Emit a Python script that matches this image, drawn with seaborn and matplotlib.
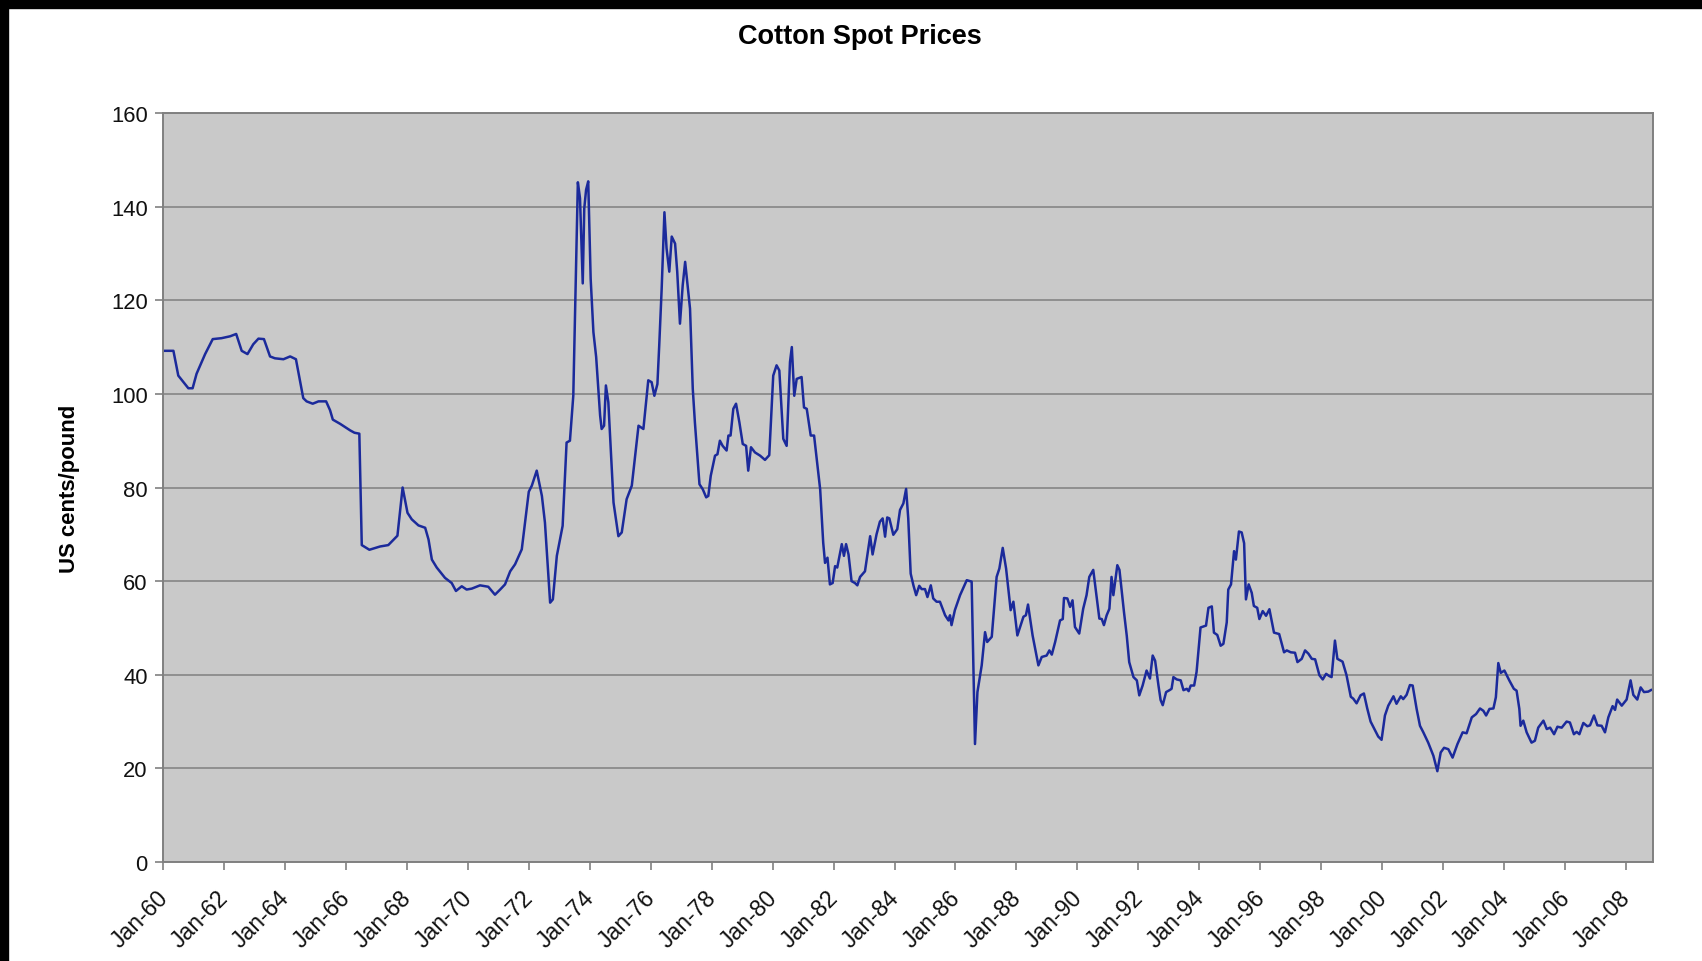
# Cotton spot prices, monthly line chart (Excel style)
import pandas as pd
import seaborn as sns
import matplotlib.pyplot as plt
from matplotlib.patches import Rectangle
from matplotlib.transforms import ScaledTranslation

# data (decimal year, US cents/pound)
years = [
    1960.00, 1960.34, 1960.50, 1960.83, 1960.97, 1961.10, 1961.38, 1961.63, 1961.92, 1962.20,
    1962.40, 1962.58, 1962.77, 1962.96, 1963.13, 1963.31, 1963.51, 1963.67, 1963.95, 1964.17,
    1964.36, 1964.50, 1964.60, 1964.71, 1964.91, 1965.10, 1965.35, 1965.48, 1965.57, 1965.81,
    1966.14, 1966.28, 1966.44, 1966.52, 1966.77, 1967.12, 1967.39, 1967.69, 1967.86, 1968.02,
    1968.16, 1968.38, 1968.60, 1968.71, 1968.82, 1968.98, 1969.25, 1969.47, 1969.61, 1969.80,
    1969.96, 1970.13, 1970.40, 1970.67, 1970.89, 1971.06, 1971.22, 1971.39, 1971.55, 1971.77,
    1972.00, 1972.10, 1972.26, 1972.43, 1972.53, 1972.70, 1972.79, 1972.92, 1973.11, 1973.24,
    1973.35, 1973.46, 1973.61, 1973.68, 1973.77, 1973.82, 1973.88, 1973.95, 1974.03, 1974.12,
    1974.21, 1974.34, 1974.39, 1974.47, 1974.53, 1974.61, 1974.78, 1974.94, 1975.05, 1975.21,
    1975.38, 1975.60, 1975.76, 1975.92, 1976.03, 1976.12, 1976.22, 1976.28, 1976.36, 1976.45,
    1976.52, 1976.61, 1976.69, 1976.80, 1976.87, 1976.96, 1977.05, 1977.13, 1977.20, 1977.29,
    1977.38, 1977.45, 1977.60, 1977.71, 1977.82, 1977.89, 1977.97, 1978.11, 1978.19, 1978.27,
    1978.36, 1978.49, 1978.55, 1978.62, 1978.71, 1978.80, 1978.91, 1979.02, 1979.13, 1979.20,
    1979.29, 1979.42, 1979.59, 1979.75, 1979.89, 1980.02, 1980.13, 1980.22, 1980.35, 1980.46,
    1980.57, 1980.63, 1980.71, 1980.79, 1980.95, 1981.03, 1981.12, 1981.25, 1981.36, 1981.56,
    1981.66, 1981.72, 1981.80, 1981.88, 1981.97, 1982.05, 1982.12, 1982.27, 1982.34, 1982.41,
    1982.49, 1982.59, 1982.70, 1982.78, 1982.87, 1983.03, 1983.20, 1983.28, 1983.41, 1983.52,
    1983.61, 1983.69, 1983.76, 1983.83, 1983.96, 1984.09, 1984.18, 1984.29, 1984.38, 1984.45,
    1984.53, 1984.62, 1984.71, 1984.81, 1984.89, 1985.00, 1985.08, 1985.19, 1985.27, 1985.38,
    1985.49, 1985.66, 1985.77, 1985.82, 1985.87, 1985.98, 1986.15, 1986.37, 1986.53, 1986.64,
    1986.72, 1986.86, 1986.97, 1987.04, 1987.19, 1987.35, 1987.44, 1987.55, 1987.66, 1987.81,
    1987.90, 1988.03, 1988.23, 1988.31, 1988.38, 1988.53, 1988.72, 1988.83, 1988.99, 1989.08,
    1989.16, 1989.27, 1989.43, 1989.52, 1989.56, 1989.67, 1989.76, 1989.84, 1989.92, 1990.06,
    1990.19, 1990.30, 1990.39, 1990.52, 1990.61, 1990.72, 1990.80, 1990.87, 1990.96, 1991.05,
    1991.12, 1991.18, 1991.31, 1991.38, 1991.53, 1991.62, 1991.70, 1991.84, 1991.95, 1992.03,
    1992.14, 1992.27, 1992.38, 1992.47, 1992.55, 1992.66, 1992.73, 1992.80, 1992.91, 1993.02,
    1993.09, 1993.15, 1993.26, 1993.39, 1993.48, 1993.59, 1993.65, 1993.72, 1993.83, 1993.91,
    1994.04, 1994.22, 1994.30, 1994.41, 1994.48, 1994.59, 1994.70, 1994.79, 1994.90, 1994.95,
    1995.04, 1995.14, 1995.20, 1995.30, 1995.39, 1995.47, 1995.53, 1995.62, 1995.72, 1995.79,
    1995.90, 1995.97, 1996.08, 1996.19, 1996.30, 1996.45, 1996.62, 1996.78, 1996.87, 1997.00,
    1997.14, 1997.22, 1997.36, 1997.47, 1997.58, 1997.69, 1997.80, 1997.94, 1998.05, 1998.16,
    1998.27, 1998.34, 1998.45, 1998.53, 1998.70, 1998.83, 1998.97, 1999.05, 1999.16, 1999.29,
    1999.40, 1999.51, 1999.62, 1999.73, 1999.87, 1999.98, 2000.09, 2000.20, 2000.37, 2000.47,
    2000.61, 2000.69, 2000.80, 2000.91, 2001.00, 2001.13, 2001.24, 2001.35, 2001.51, 2001.68,
    2001.81, 2001.92, 2002.03, 2002.17, 2002.31, 2002.47, 2002.64, 2002.77, 2002.94, 2003.08,
    2003.21, 2003.32, 2003.41, 2003.52, 2003.65, 2003.73, 2003.81, 2003.89, 2004.01, 2004.17,
    2004.32, 2004.41, 2004.50, 2004.54, 2004.63, 2004.74, 2004.90, 2005.01, 2005.12, 2005.29,
    2005.40, 2005.51, 2005.64, 2005.75, 2005.89, 2006.05, 2006.16, 2006.29, 2006.38, 2006.47,
    2006.60, 2006.73, 2006.82, 2006.95, 2007.06, 2007.20, 2007.31, 2007.42, 2007.56, 2007.64,
    2007.71, 2007.86, 2008.02, 2008.15, 2008.24, 2008.37, 2008.48, 2008.59, 2008.73, 2008.84,
]
prices = [
    109.2, 109.2, 103.9, 101.2, 101.2, 104.3, 108.5, 111.7, 111.9, 112.3,
    112.8, 109.2, 108.5, 110.6, 111.8, 111.7, 108.0, 107.6, 107.4, 108.0,
    107.4, 102.5, 99.1, 98.4, 97.9, 98.4, 98.4, 96.5, 94.5, 93.6,
    92.2, 91.7, 91.5, 67.7, 66.7, 67.4, 67.7, 69.7, 80.0, 74.6,
    73.2, 71.9, 71.4, 68.9, 64.6, 62.9, 60.7, 59.6, 57.9, 58.9,
    58.2, 58.4, 59.1, 58.8, 57.1, 58.2, 59.3, 62.1, 63.6, 66.8,
    79.1, 80.4, 83.6, 78.2, 72.5, 55.4, 56.1, 65.4, 71.8, 89.6,
    90.0, 99.6, 145.2, 141.8, 123.6, 139.6, 143.6, 145.4, 124.6, 113.2,
    107.9, 95.4, 92.5, 93.2, 101.8, 98.2, 76.8, 69.6, 70.4, 77.5,
    80.4, 93.2, 92.5, 102.9, 102.5, 99.6, 102.1, 110.4, 122.5, 138.8,
    131.1, 126.1, 133.6, 132.1, 126.1, 115.0, 123.2, 128.2, 123.9, 118.2,
    101.1, 93.9, 80.7, 79.6, 77.9, 78.2, 82.5, 86.8, 87.1, 90.0,
    88.9, 87.9, 91.1, 91.1, 96.8, 97.9, 93.9, 89.3, 88.9, 83.6,
    88.6, 87.5, 86.8, 85.9, 86.9, 103.9, 106.1, 105.0, 90.4, 88.9,
    106.8, 110.0, 99.6, 103.2, 103.6, 97.1, 96.8, 91.1, 91.1, 79.6,
    68.2, 63.9, 65.0, 59.3, 59.6, 63.2, 62.9, 67.9, 65.4, 67.9,
    65.7, 60.0, 59.6, 59.1, 60.9, 62.1, 69.6, 65.7, 70.0, 72.7,
    73.4, 69.5, 73.6, 73.4, 69.9, 71.1, 75.2, 76.6, 79.7, 73.4,
    61.6, 59.1, 57.0, 59.0, 58.3, 58.3, 56.6, 59.1, 56.3, 55.6,
    55.6, 52.7, 51.6, 52.7, 50.6, 53.8, 57.0, 60.2, 59.9, 25.2,
    36.3, 42.0, 49.1, 47.0, 48.1, 60.9, 62.7, 67.1, 62.7, 53.8,
    55.6, 48.4, 52.4, 52.7, 55.0, 48.4, 42.0, 43.8, 44.1, 45.2,
    44.3, 47.0, 51.6, 51.9, 56.4, 56.3, 54.5, 55.9, 50.2, 48.8,
    54.1, 57.0, 60.9, 62.4, 57.7, 52.0, 51.9, 50.6, 52.7, 54.1,
    60.9, 57.0, 63.4, 62.4, 53.3, 48.3, 42.7, 39.5, 38.8, 35.6,
    37.7, 40.9, 39.2, 44.1, 43.0, 37.7, 34.6, 33.5, 36.3, 36.7,
    37.0, 39.5, 39.0, 38.8, 36.7, 37.0, 36.5, 37.7, 37.7, 40.6,
    50.1, 50.5, 54.3, 54.6, 49.0, 48.5, 46.2, 46.6, 51.2, 58.2,
    59.3, 66.4, 64.6, 70.6, 70.4, 68.1, 56.1, 59.3, 57.5, 54.7,
    54.3, 51.9, 53.6, 52.6, 54.0, 49.0, 48.7, 44.8, 45.2, 44.8,
    44.7, 42.7, 43.4, 45.2, 44.5, 43.4, 43.3, 39.9, 39.0, 40.2,
    39.7, 39.5, 47.3, 43.4, 42.8, 39.9, 35.3, 34.9, 33.9, 35.6,
    36.0, 32.8, 30.0, 28.6, 26.8, 26.1, 31.3, 33.4, 35.4, 33.8,
    35.4, 34.8, 35.7, 37.8, 37.7, 32.7, 29.1, 27.7, 25.5, 22.7,
    19.4, 23.4, 24.4, 24.1, 22.3, 25.2, 27.7, 27.5, 30.9, 31.6,
    32.8, 32.3, 31.3, 32.7, 32.8, 35.2, 42.5, 40.4, 40.9, 38.8,
    37.0, 36.6, 32.7, 29.1, 30.2, 27.7, 25.5, 25.9, 28.7, 30.2,
    28.4, 28.7, 27.3, 28.9, 28.7, 30.0, 29.8, 27.3, 27.8, 27.3,
    29.7, 29.0, 29.2, 31.3, 29.2, 29.1, 27.7, 30.9, 33.3, 32.5,
    34.7, 33.4, 34.7, 38.8, 35.7, 34.7, 37.3, 36.3, 36.4, 36.8,
]
tick_years = list(range(1960, 2009, 2))
tick_labels = ["Jan-%02d" % (y % 100) for y in tick_years]

df = pd.DataFrame({"year": years, "price": prices})

sns.set_theme(style="white")
plt.rcParams["font.family"] = ["Liberation Sans", "DejaVu Sans"]

fig = plt.figure(figsize=(17.02, 9.62), dpi=100, facecolor="white")
ax = fig.add_axes([0.0958, 0.1029, 0.8754, 0.7786])
ax.set_facecolor("#c9c9c9")

sns.lineplot(data=df, x="year", y="price", ax=ax, color="#1b2a9b",
             linewidth=1.8, sort=False, estimator=None)

ax.set_xlim(1960, 2008.885)
ax.set_ylim(0, 160)
ax.set_yticks(range(0, 161, 20))
ax.set_xticks(tick_years)
ax.set_xticklabels(tick_labels, rotation=45, ha="right", rotation_mode="anchor")
ax.yaxis.grid(True, color="#8a8a8a", linewidth=1.3)
ax.set_axisbelow(True)

ax.tick_params(axis="both", which="major", direction="out", length=6, width=1.2,
               color="#808080", labelsize=15.8, labelcolor="#111111", bottom=True, left=True)
ax.tick_params(axis="x", pad=4, labelsize=16.6)
ax.tick_params(axis="y", pad=5)
for s in ax.spines.values():
    s.set_color("#808080")
    s.set_linewidth(1.4)

# nudge the slanted date labels down and left like Excel does
shift = ScaledTranslation(-7 / 100, -10 / 100, fig.dpi_scale_trans)
for lab in ax.get_xticklabels():
    lab.set_transform(lab.get_transform() + shift)

ax.set_xlabel("")
ax.set_ylabel("US cents/pound", fontsize=15.9, fontweight="bold", labelpad=22, color="black")
fig.text(0.505, 0.962, "Cotton Spot Prices", ha="center", va="center",
         fontsize=19.5, fontweight="bold", color="black")

# black frame along top and left edge of the original screenshot
fig.add_artist(Rectangle((0, 1 - 9 / 962), 1, 9 / 962, transform=fig.transFigure,
                         color="black", zorder=10))
fig.add_artist(Rectangle((0, 0), 8 / 1702, 1, transform=fig.transFigure,
                         color="black", zorder=10))

fig.savefig("out.png", dpi=100)
